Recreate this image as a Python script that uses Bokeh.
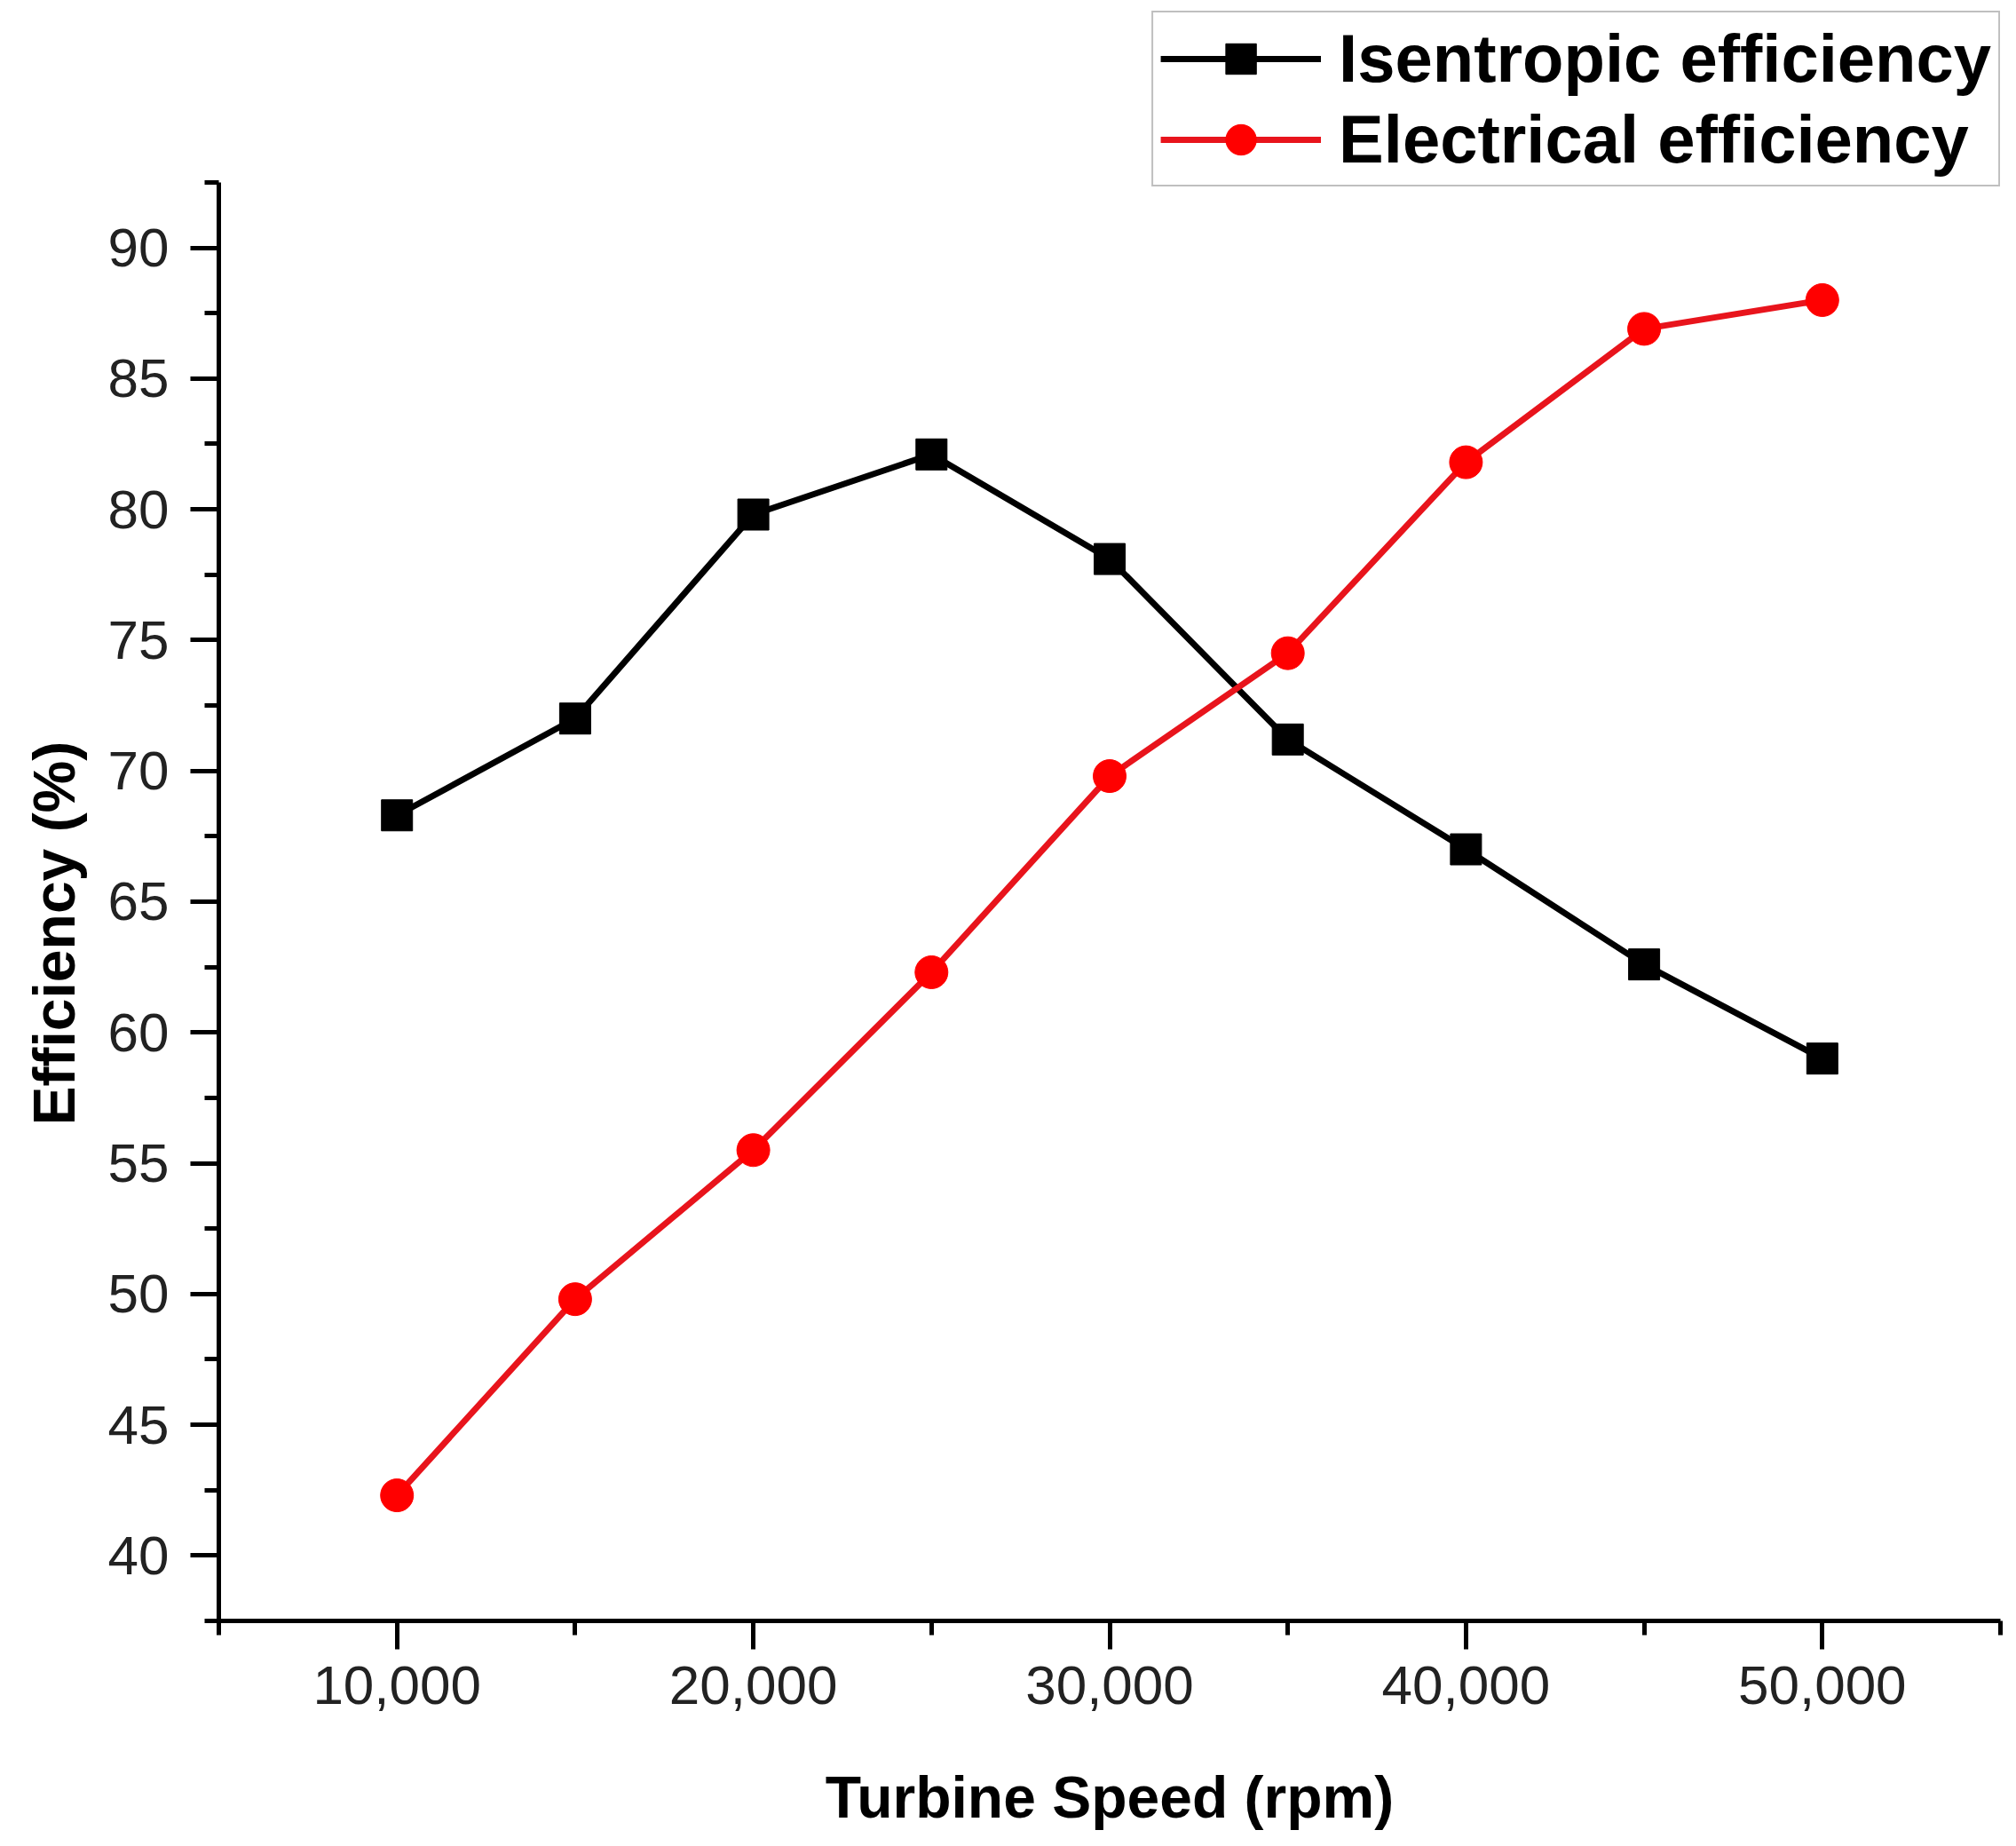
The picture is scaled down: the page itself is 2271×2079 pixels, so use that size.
from bokeh.plotting import figure
from bokeh.models import (Range1d, SingleIntervalTicker, NumeralTickFormatter,
                          Legend, LegendItem, Title)
from bokeh.embed import file_html
from bokeh.resources import INLINE

# ---- data ----
speed_rpm = [10000, 15000, 20000, 25000, 30000, 35000, 40000, 45000, 50000]
isentropic_eff = [68.3, 72.0, 79.8, 82.1, 78.1, 71.2, 67.0, 62.6, 59.0]
electrical_eff = [42.3, 49.8, 55.5, 62.3, 69.8, 74.5, 81.8, 86.9, 88.0]
series_names = ["Isentropic efficiency", "Electrical efficiency"]
x_title = "Turbine Speed (rpm)"
y_title = "Efficiency (%)"

FONT = "Liberation Sans"

W, H = 2271, 2079
BL, BR, BT, BB = 244, 18, 12, 254
Y_AXIS_LO, Y_AXIS_HI = 37.5, 92.5
Y_TOP = 99.05   # extra room above the axis for the legend

p = figure(width=W, height=H, output_backend="svg", toolbar_location=None,
           x_range=Range1d(4999.9, 55000.1), y_range=Range1d(Y_AXIS_LO - 0.001, Y_TOP),
           min_border_left=BL, min_border_right=BR, min_border_top=BT,
           min_border_bottom=BB)
p.title.visible = False
p.outline_line_color = None
p.xgrid.visible = False
p.ygrid.visible = False
p.background_fill_color = "white"
p.border_fill_color = "white"

l1 = p.line(speed_rpm, isentropic_eff, line_color="black", line_width=7)
s1 = p.scatter(speed_rpm, isentropic_eff, marker="square", size=35,
               fill_color="black", line_color="black")
l2 = p.line(speed_rpm, electrical_eff, line_color="#e8141c", line_width=7)
s2 = p.scatter(speed_rpm, electrical_eff, marker="circle", size=37,
               fill_color="#ff0000", line_color="#ff0000")

# axes
xa = p.xaxis[0]
ya = p.yaxis[0]
xa.ticker = SingleIntervalTicker(interval=10000, num_minor_ticks=2)
ya.ticker = SingleIntervalTicker(interval=5, num_minor_ticks=2)
ya.bounds = (Y_AXIS_LO - 0.001, Y_AXIS_HI + 0.001)
xa.formatter = NumeralTickFormatter(format="0,0")
for ax in (xa, ya):
    ax.axis_line_width = 5
    ax.axis_line_color = "black"
    ax.major_tick_line_width = 5
    ax.minor_tick_line_width = 5
    ax.major_tick_line_color = "black"
    ax.minor_tick_line_color = "black"
    ax.major_tick_out = 32
    ax.major_tick_in = 0
    ax.minor_tick_out = 16
    ax.minor_tick_in = 0
    ax.major_label_text_font = FONT
    ax.major_label_text_font_size = "62px"
    ax.major_label_text_color = "#222222"
    ax.axis_label_text_font = FONT
    ax.axis_label_text_font_size = "66px"
    ax.axis_label_text_font_style = "bold"
    ax.axis_label_text_color = "black"
xa.major_label_standoff = 19
ya.major_label_standoff = 24
xa.axis_label = x_title
xa.axis_label_standoff = 65

# y-axis title placed as a side title so it can sit lower than the frame centre
ytitle = Title(text=y_title, align="left", offset=558, vertical_align="bottom",
               text_font=FONT, text_font_size="66px", text_font_style="bold",
               text_color="black", standoff=42)
p.add_layout(ytitle, "left")

legend = Legend(items=[LegendItem(label=series_names[0], renderers=[l1, s1]),
                       LegendItem(label=series_names[1], renderers=[l2, s2])],
                location="top_right", orientation="vertical")
legend.margin = 0
legend.padding = 8
legend.spacing = 4
legend.glyph_width = 181
legend.glyph_height = 86
legend.label_standoff = 20
legend.label_text_font = FONT
legend.label_text_font_size = "76px"
legend.label_text_font_style = "bold"
legend.label_text_color = "black"
legend.border_line_color = "#808080"
legend.border_line_width = 2
legend.background_fill_color = "white"
legend.background_fill_alpha = 1.0
p.add_layout(legend, "center")

open("out.html", "w").write(file_html(p, INLINE))
